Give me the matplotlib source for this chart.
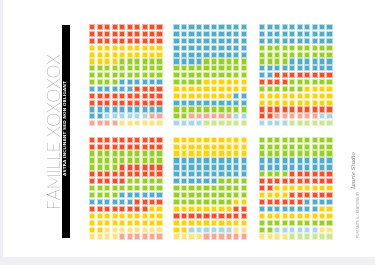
import matplotlib
matplotlib.use("Agg")
import matplotlib.pyplot as plt
from matplotlib.patches import Rectangle

# ======================== DATA ========================
# each panel = 10 x 15 cells filled row by row, read as (colour key, number of cells)
PANEL_TOP_LEFT = [("R", 30), ("Y", 24), ("G", 30), ("B", 12), ("R", 24),
                  ("B", 12), ("lb", 6), ("lr", 6), ("ly", 6)]
PANEL_TOP_MID = [("B", 54), ("G", 30), ("Y", 24), ("B", 12), ("G", 12),
                 ("lr", 6), ("lb", 6), ("lg", 6)]
PANEL_TOP_RIGHT = [("B", 30), ("G", 24), ("B", 18), ("R", 12), ("G", 12),
                   ("Y", 24), ("R", 12), ("lr", 6), ("lb", 6), ("lg", 6)]
PANEL_BOT_LEFT = [("R", 20), ("G", 24), ("R", 21), ("G", 19), ("B", 12),
                  ("R", 12), ("Y", 24), ("ly", 12), ("lr", 6)]
PANEL_BOT_MID = [("Y", 30), ("B", 36), ("G", 32), ("Y", 10), ("R", 12),
                 ("Y", 12), ("lb", 6), ("ly", 6), ("lr", 6)]
PANEL_BOT_RIGHT = [("G", 30), ("B", 20), ("G", 4), ("R", 18), ("Y", 12),
                   ("R", 12), ("B", 12), ("Y", 12), ("G", 12), ("lb", 6),
                   ("ly", 6), ("lg", 6)]

PANELS = [PANEL_TOP_LEFT, PANEL_TOP_MID, PANEL_TOP_RIGHT,
          PANEL_BOT_LEFT, PANEL_BOT_MID, PANEL_BOT_RIGHT]

TITLE = "FAMILLE XOXOXOX"
SUBTITLE = "ASTRA INCLINANT SED NON OBLIGANT"
CREDIT = "PORTRAITS & CRÉATIONS BY"
SIGNATURE = "Laurie Studio"

N_COLS = 10
N_ROWS = 15

COLORS = {
    "R": "#FF4A22", "Y": "#FFD200", "G": "#95D21E", "B": "#4DADCB",
    "lb": "#A8D7E6", "lr": "#FFA392", "ly": "#FFE47E", "lg": "#CBE88F",
}
HALO = {
    "R": "#FFB3A3", "Y": "#FFEC99", "G": "#D2EDA0", "B": "#B5DEEA",
    "lb": "#DDF0F6", "lr": "#FFD9D1", "ly": "#FFF4C8", "lg": "#E7F5CE",
}

# ======================== FIGURE ========================
fig = plt.figure(figsize=(3.75, 2.65), dpi=100)
fig.patch.set_facecolor("#EFEFF4")

# white page
page = fig.add_axes([0, 0, 1, 1])
page.set_xlim(0, 375)
page.set_ylim(265, 0)
page.axis("off")
page.add_patch(Rectangle((3, 0), 372, 257, facecolor="white", edgecolor="none"))

# black vertical bar + texts
page.add_patch(Rectangle((62.3, 25), 7.7, 213.3, facecolor="black", edgecolor="none"))
page.text(56, 131, TITLE, rotation=90, ha="center", va="center",
          fontsize=12.5, color="#1E1E1E", family=["Lato", "DejaVu Sans"],
          fontweight="light")
page.text(66.3, 128, SUBTITLE, rotation=90, ha="center", va="center",
          fontsize=3.2, color="white", fontweight="bold")

# signature on the right
page.text(358.5, 214, CREDIT, rotation=90, ha="center", va="center",
          fontsize=2.3, color="#999999")
page.text(355, 170, SIGNATURE, rotation=90, ha="center", va="center",
          fontsize=4, color="#777777", family="DejaVu Serif", style="italic")

# ======================== WAFFLES ========================
x_lefts = [88 / 375, 172.3 / 375, 258 / 375]
row_bottoms = [(265 - 126.1) / 265, (265 - 239.5) / 265]
w = 74.8 / 375
heights = [102.8 / 265, 103.7 / 265]

for i, panel in enumerate(PANELS):
    r, c = divmod(i, 3)
    ax = fig.add_axes([x_lefts[c], row_bottoms[r], w, heights[r]])
    ax.set_xlim(-0.5, N_COLS - 0.5)
    ax.set_ylim(N_ROWS - 0.5, -0.5)
    ax.axis("off")

    keys = [k for k, n in panel for _ in range(n)]
    xs = [j % N_COLS for j in range(len(keys))]
    ys = [j // N_COLS for j in range(len(keys))]
    ax.scatter(xs, ys, s=14, marker="s",
               c=[COLORS[k] for k in keys],
               edgecolors=[HALO[k] for k in keys], linewidths=0.7)

fig.savefig("out.png", dpi=100, facecolor=fig.get_facecolor())
